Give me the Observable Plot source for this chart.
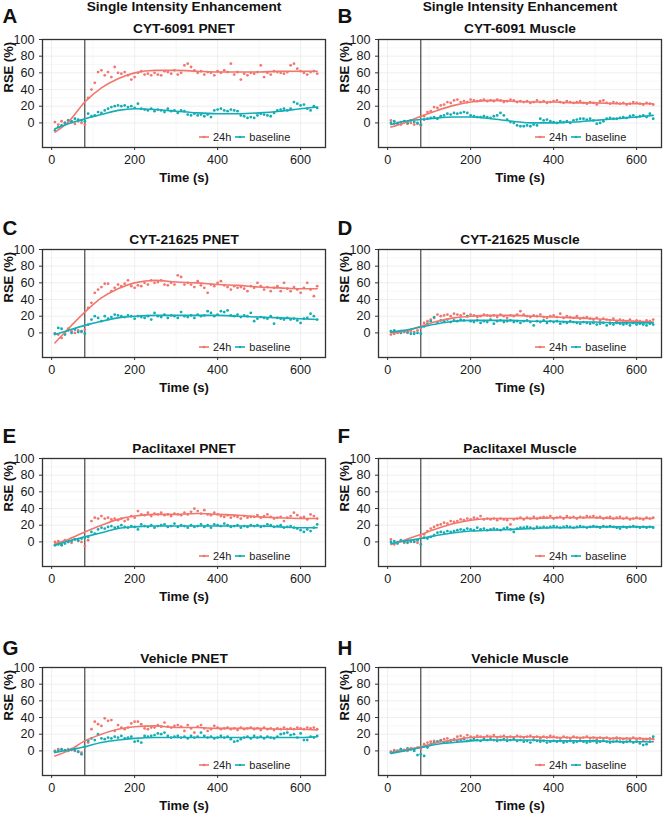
<!DOCTYPE html>
<html><head><meta charset="utf-8">
<script src="https://cdn.jsdelivr.net/npm/d3@7"></script>
<script src="https://cdn.jsdelivr.net/npm/@observablehq/plot@0.6"></script>
<style>
body{margin:0;background:#fff;overflow:hidden;font-family:"Liberation Sans",Arial,sans-serif}
#root{position:relative;width:663px;height:813px;overflow:hidden;background:#fff}
.panel{position:absolute}
.legend{position:absolute;display:flex;align-items:center;font-size:11px;color:#222;white-space:nowrap;line-height:12px}
.legend svg{display:block}
</style></head>
<body><div id="root"></div>
<script>
// ---------- data ----------
const times = [8,16,24,32,40,48,56,64,72,80,88,96,104,112,120,128,136,144,152,160,168,176,184,192,200,208,216,224,232,240,248,256,264,272,280,288,296,304,312,320,328,336,344,352,360,368,376,384,392,400,408,416,424,432,440,448,456,464,472,480,488,496,504,512,520,528,536,544,552,560,568,576,584,592,600,608,616,624,632,640];
const fitTimes = [8,40,80,120,160,200,250,300,350,400,450,500,550,600,640];
const seriesNames = ["24h","baseline"];
const panelTitles = ["CYT-6091 PNET","CYT-6091 Muscle","CYT-21625 PNET","CYT-21625 Muscle","Paclitaxel PNET","Paclitaxel Muscle","Vehicle PNET","Vehicle Muscle"];
const panelLetters = ["A","B","C","D","E","F","G","H"];
const headerText = "Single Intensity Enhancement";
const xTicks = [0,200,400,600];
const yTicks = [0,20,40,60,80,100];
const injectionTime = 80;

const A_24h = [1,-2,2,0,3,1,-1,2,0,-2, 30,40,48,61,63,57,61,55,67,60, 59,61,57,52,55,60,62,58,59,57, 60,58,57,62,61,59,63,58,60,69, 71,67,63,60,62,58,61,60,57,62, 60,63,61,71,58,61,52,59,57,60, 59,61,69,55,60,58,62,61,60,59, 61,69,71,65,62,60,58,61,62,59];
const A_base = [-9,-5,-3,0,3,2,5,4,3,2, 11,8,9,13,12,15,17,19,20,21, 20,21,19,20,18,23,17,16,15,17, 14,16,15,13,17,14,15,12,15,14, 10,9,11,9,10,8,10,7,15,16, 17,15,14,16,15,14,9,8,6,7, 6,9,11,10,9,8,12,15,16,17, 15,17,25,23,21,22,17,15,20,18];
const A_24h_fit = [-11,1,25,42,53,60,63,63,62,61,61,61,62,62,62];
const A_base_fit = [-7,-1,5,10,15,17,16,14,12,11,11,12,14,17,19];

const B_24h = [3,-1,0,-2,1,-1,0,-2,-1,-3, 8,13,14,19,18,21,22,25,24,27, 28,25,26,25,28,27,26,27,28,26, 27,26,28,27,25,26,28,27,25,26, 25,26,24,25,27,25,26,24,25,26, 27,25,24,26,25,24,25,26,24,23, 25,24,22,26,27,24,23,25,24,23, 24,22,23,25,24,23,22,24,23,22];
const B_base = [0,2,-1,1,2,0,3,1,0,-2, 4,5,6,7,5,8,9,11,10,12, 11,12,13,12,9,8,7,7,8,7, 6,8,9,12,9,4,1,0,-3,-4, -4,-3,-4,-2,-3,5,3,4,2,1, 0,2,1,2,0,3,4,5,5,4, 5,3,-1,0,2,5,6,5,5,6, 7,6,8,9,7,8,9,7,11,5];
const B_24h_fit = [-5,0,8,15,21,25,27,26,25,25,24,24,23,23,23];
const B_base_fit = [-2,2,4,6,7,7,5,2,0,0,1,3,5,7,9];

const C_24h = [-1,-2,-6,0,5,2,0,3,1,4, 30,36,48,52,55,59,59,50,54,58, 56,59,63,56,54,57,56,60,58,63, 60,61,63,58,57,60,58,69,67,58, 60,58,55,62,57,54,48,58,56,60, 62,57,55,52,56,54,55,53,50,56, 54,60,56,52,55,50,54,56,50,60, 53,50,55,52,48,54,60,52,44,56];
const C_base = [-1,6,5,-2,3,0,4,1,2,-1, 10,16,20,18,14,20,17,19,22,21, 20,19,21,20,17,20,19,18,20,16, 24,20,19,22,18,21,20,18,25,20, 19,21,18,22,20,21,26,24,20,22, 26,25,27,21,20,22,19,21,20,24, 14,17,19,18,17,20,11,18,17,16, 18,16,17,15,12,17,18,23,20,16];
const C_24h_fit = [-12,5,25,42,53,60,63,61,60,58,57,55,54,53,53];
const C_base_fit = [-2,3,9,14,18,20,21,21,21,21,20,19,18,17,16];

const D_24h = [-2,-1,0,2,1,0,2,1,3,6, 12,14,16,18,22,20,21,22,20,23, 22,21,23,20,22,21,19,20,22,21, 20,21,19,22,20,18,21,20,22,26, 22,20,19,21,20,22,19,18,20,21, 19,23,18,20,19,18,20,17,18,19, 17,16,18,15,17,16,15,17,14,16, 15,14,16,13,15,14,13,15,14,16];
const D_base = [2,3,1,0,2,1,-1,-1,0,-1, 8,11,14,19,13,15,14,16,13,15, 14,16,15,20,14,13,15,12,14,13, 16,11,14,15,13,14,15,13,14,12, 14,15,13,9,14,13,15,12,14,13, 14,11,13,12,14,13,12,11,13,12, 11,12,10,11,12,9,11,10,12,11, 10,11,9,12,10,11,10,9,11,10];
const D_24h_fit = [0,2,8,14,18,20,21,21,20,19,18,17,15,14,13];
const D_base_fit = [1,3,7,11,14,15,15,15,14,14,13,13,12,12,12];

const E_24h = [0,1,-3,2,0,-1,3,1,0,-5, 2,25,29,28,31,28,29,27,28,26, 28,25,27,31,29,37,33,32,35,31, 34,33,35,32,33,31,34,33,32,35, 33,36,40,37,34,38,33,32,35,33, 31,30,32,29,31,30,28,31,29,30, 30,32,29,31,33,30,28,29,30,25, 29,31,35,32,29,30,27,33,31,28];
const E_base = [-4,-3,-4,-2,0,1,3,2,4,5, 6,12,10,15,17,16,18,19,17,18, 20,18,17,19,18,15,21,19,18,20, 17,19,20,21,18,19,22,18,20,19, 17,20,18,19,21,18,20,17,21,20, 19,22,20,18,19,20,17,19,18,20, 19,20,18,19,21,20,18,19,20,17, 18,19,17,16,14,12,15,13,17,21];
const E_24h_fit = [-2,3,12,20,27,31,33,33,34,33,32,30,29,28,28];
const E_base_fit = [-4,1,6,11,16,18,19,19,19,19,19,19,18,17,17];

const F_24h = [3,-3,0,1,-1,2,0,1,-1,6, 9,13,16,18,20,21,23,22,25,24, 25,27,26,28,27,29,28,31,27,28, 27,28,26,28,27,26,21,27,28,29, 27,29,28,30,28,29,30,29,31,28, 29,30,28,31,29,30,28,30,29,31, 30,31,29,30,28,29,30,28,29,30, 28,29,27,28,29,28,27,29,28,29];
const F_base = [0,1,-2,2,0,-1,1,0,2,-3, 5,4,6,8,11,12,11,13,12,13, 14,15,14,16,15,14,17,15,16,14, 15,16,15,14,16,17,15,12,16,17, 17,18,17,16,18,17,18,17,18,19, 18,17,18,19,18,17,18,19,18,17, 18,19,18,17,19,18,19,18,17,16, 18,17,18,19,18,17,18,17,18,17];
const F_24h_fit = [-3,2,9,16,22,26,28,28,28,29,29,29,28,28,28];
const F_base_fit = [-2,1,4,8,11,13,14,15,16,17,17,18,18,18,18];

const G_24h = [0,2,1,0,2,1,0,-1,-2,4, 10,26,35,32,30,39,36,37,24,31, 28,26,28,33,35,35,32,27,26,28, 28,31,29,34,29,28,30,31,29,24, 31,27,22,29,31,27,24,26,30,28, 26,27,28,26,27,25,28,26,27,28, 26,27,25,28,26,27,25,27,26,28, 26,27,26,28,27,26,28,27,28,26];
const G_base = [-1,0,2,1,0,2,1,-1,-4,5, 12,15,13,20,15,14,16,15,17,16, 18,15,16,17,11,12,10,18,17,18, 19,21,20,22,18,16,17,18,16,17, 15,18,16,17,22,18,16,17,15,16, 18,16,17,14,11,12,14,16,17,15, 18,16,17,15,17,16,15,17,20,21, 22,19,20,16,21,13,13,17,16,18];
const G_24h_fit = [-6,0,12,20,26,29,30,28,28,27,27,27,26,26,25];
const G_base_fit = [-2,1,5,10,13,15,16,16,16,16,16,16,16,16,17];

const H_24h = [-1,1,0,2,1,0,3,2,4,3, 8,10,11,12,11,13,14,15,13,14, 17,18,16,19,17,16,18,17,16,18, 17,19,16,17,18,16,17,16,18,17, 16,17,18,16,17,15,17,16,18,17, 16,15,17,16,15,17,16,15,16,17, 15,16,14,16,15,16,14,15,16,15, 14,15,14,16,14,15,13,14,15,14];
const H_base = [-2,-1,0,2,1,3,2,0,-5,-4, -6,4,8,10,11,12,10,11,12,13, 12,13,14,12,13,14,13,12,14,13, 14,13,12,13,14,12,13,14,12,13, 11,12,10,13,12,11,12,10,11,12, 11,12,10,11,12,10,11,12,11,10, 11,12,10,11,12,11,10,11,12,11, 10,11,12,10,11,9,7,8,11,17];
const H_24h_fit = [-2,1,5,10,13,16,17,17,17,16,16,16,15,15,14];
const H_base_fit = [-3,0,4,8,10,12,13,13,13,12,12,12,11,11,11];

const panelPoints = [[A_24h,A_base],[B_24h,B_base],[C_24h,C_base],[D_24h,D_base],[E_24h,E_base],[F_24h,F_base],[G_24h,G_base],[H_24h,H_base]];
const panelFits = [[A_24h_fit,A_base_fit],[B_24h_fit,B_base_fit],[C_24h_fit,C_base_fit],[D_24h_fit,D_base_fit],[E_24h_fit,E_base_fit],[F_24h_fit,F_base_fit],[G_24h_fit,G_base_fit],[H_24h_fit,H_base_fit]];

// ---------- layout ----------
const colors = ["#F3766E","#13ADB6"];
const font = "'Liberation Sans', Arial, sans-serif";
const frameTops = [39, 249, 457.7, 666.7];
const letterDy = [-23.5, -21.5, -21.7, -19.5];
const titleDy = [-10.7, -10, -10, -8.7];
const root = document.getElementById("root");

for (let p = 0; p < 8; p++) {
  const r = Math.floor(p / 2), c = p % 2;
  const width = c ? 332 : 331;
  const mL = c ? 47 : 42, mR = c ? 2 : 6;
  const mT = 39, frameH = 108, height = 190;
  const svgTop = frameTops[r] - mT;
  const svgLeft = c ? 331 : 0;

  const pts = [];
  const fits = [];
  seriesNames.forEach((s, k) => {
    panelPoints[p][k].forEach((v, i) => pts.push({t: times[i], v, s}));
    panelFits[p][k].forEach((v, i) => fits.push({t: fitTimes[i], v, s}));
  });

  const marks = [
    Plot.gridX([100,300,500], {stroke: "#f3f3f3", strokeOpacity: 1, strokeWidth: 0.6}),
    Plot.gridY([10,30,50,70,90], {stroke: "#f3f3f3", strokeOpacity: 1, strokeWidth: 0.6}),
    Plot.gridX(xTicks, {stroke: "#ececec", strokeOpacity: 1, strokeWidth: 0.9}),
    Plot.gridY(yTicks, {stroke: "#ececec", strokeOpacity: 1, strokeWidth: 0.9}),
    Plot.ruleX([injectionTime], {stroke: "#222", strokeWidth: 1}),
    Plot.dot(pts, {x: "t", y: "v", fill: "s", r: 1.4}),
    Plot.line(fits, {x: "t", y: "v", stroke: "s", z: "s", strokeWidth: 1.6, curve: "monotone-x"}),
    Plot.frame({stroke: "#333", strokeWidth: 1.3}),
    Plot.axisX(xTicks, {tickSize: 3, tickPadding: 5, label: null, fontSize: 12.6, stroke: "#333"}),
    Plot.axisY(yTicks, {tickSize: 3, tickPadding: 5, label: null, fontSize: 12.6, stroke: "#333"}),
    Plot.text([panelTitles[p]], {text: d => d, frameAnchor: "top", lineAnchor: "middle", dy: titleDy[r], fontWeight: "bold", fontSize: 13.7, fill: "#111"}),
    Plot.text([panelLetters[p]], {text: d => d, frameAnchor: "top-left", lineAnchor: "middle", textAnchor: "start", dx: -(mL - (c ? 6 : 2)), dy: letterDy[r], fontWeight: "bold", fontSize: 20.5, fill: "#111"}),
    Plot.text(["Time (s)"], {text: d => d, frameAnchor: "bottom", lineAnchor: "middle", dy: 30, fontWeight: "bold", fontSize: 13, fill: "#111"}),
    Plot.text(["RSE (%)"], {text: d => d, frameAnchor: "left", lineAnchor: "middle", dx: -34, dy: -1, rotate: -90, fontWeight: "bold", fontSize: 13, fill: "#111"})
  ];
  if (r === 0) {
    marks.push(Plot.text([headerText], {text: d => d, frameAnchor: "top", lineAnchor: "middle", dy: -32.6, fontWeight: "bold", fontSize: 13.7, fill: "#111"}));
  }

  const chart = Plot.plot({
    width, height,
    marginTop: mT, marginBottom: height - mT - frameH, marginLeft: mL, marginRight: mR,
    x: {domain: [-22, 660]},
    y: {domain: [-29.5, 100]},
    color: {domain: seriesNames, range: colors},
    style: {fontFamily: font, color: "#1a1a1a", background: "transparent", overflow: "visible"},
    marks
  });
  const wrap = document.createElement("div");
  wrap.className = "panel";
  wrap.style.left = svgLeft + "px";
  wrap.style.top = svgTop + "px";
  wrap.appendChild(chart);
  root.appendChild(wrap);

  // legend (inside the panel, bottom right)
  const lg = document.createElement("div");
  lg.className = "legend";
  lg.style.left = (svgLeft + mL + 156) + "px";
  lg.style.top = (frameTops[r] + frameH - 16) + "px";
  seriesNames.forEach((s, k) => {
    const sw = document.createElementNS("http://www.w3.org/2000/svg", "svg");
    sw.setAttribute("width", 12); sw.setAttribute("height", 10);
    sw.style.marginRight = "3px";
    sw.style.marginLeft = k ? "3px" : "0px";
    sw.innerHTML = `<line x1="1" x2="11" y1="5" y2="5" stroke="${colors[k]}" stroke-width="1.6"/><circle cx="6" cy="5" r="1.3" fill="${colors[k]}"/>`;
    lg.appendChild(sw);
    const sp = document.createElement("span");
    sp.textContent = s;
    lg.appendChild(sp);
  });
  root.appendChild(lg);
}
</script>
</body></html>
